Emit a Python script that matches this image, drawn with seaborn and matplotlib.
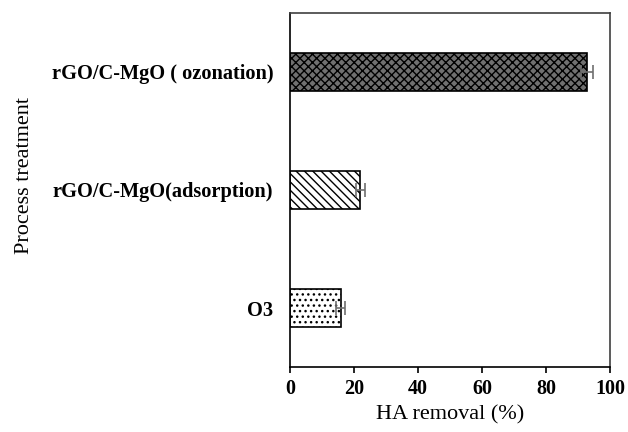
import matplotlib
matplotlib.use("Agg")
import matplotlib.pyplot as plt
import seaborn as sns
import pandas as pd

categories = ["rGO/C-MgO ( ozonation)", "rGO/C-MgO(adsorption)", "O3"]
removal = [92.8, 22.0, 15.8]
errors = [1.8, 1.5, 1.3]
xticks = [0, 20, 40, 60, 80, 100]

sns.set_theme(style="ticks")
plt.rcParams['font.family'] = ['Liberation Serif', 'DejaVu Serif']
plt.rcParams['hatch.linewidth'] = 1.0
plt.rcParams['text.color'] = 'black'
plt.rcParams['axes.labelcolor'] = 'black'
plt.rcParams['xtick.color'] = 'black'
plt.rcParams['ytick.color'] = 'black'

df = pd.DataFrame({"cat": categories, "val": removal})

fig = plt.figure(figsize=(6.28, 4.32), dpi=100)
ax = fig.add_axes([290/628, 1-367/432, 320/628, 354/432])

sns.barplot(data=df, x="val", y="cat", orient="h", ax=ax, width=0.33,
            color="white", edgecolor="black", linewidth=1.2, errorbar=None)

faces = ["#707070", "white", "white"]
hatches = ["xxxx", "\\\\\\\\", "..."]
for p, fc, h in zip(ax.patches, faces, hatches):
    p.set_facecolor(fc)
    p.set_hatch(h)
    p.set_edgecolor("black")

ax.errorbar(removal, range(len(categories)), xerr=errors, fmt="none",
            ecolor="#707070", elinewidth=1.2, capsize=5, capthick=1.2)

ax.set_xlim(0, 100)
ax.set_ylim(2.5, -0.5)
ax.set_xticks(xticks)
ax.set_xticklabels([str(t) for t in xticks], fontsize=14.5, fontweight="bold")
ax.tick_params(axis="y", length=0, pad=12)
ax.tick_params(axis="x", direction="out", length=4, width=1.2, pad=5)
for lab in ax.get_yticklabels():
    lab.set_fontweight("bold")
    lab.set_fontsize(14.7)
for s in ax.spines.values():
    s.set_visible(True)
    s.set_linewidth(1.2)
    s.set_color("black")
ax.spines["top"].set_color("#404040")
ax.spines["right"].set_color("#404040")

ax.set_xlabel("HA removal (%)", fontsize=16, labelpad=4)
ax.set_ylabel("Process treatment", fontsize=16)
ax.yaxis.set_label_coords(-0.80, 0.542)

fig.savefig("out.png", dpi=100)
